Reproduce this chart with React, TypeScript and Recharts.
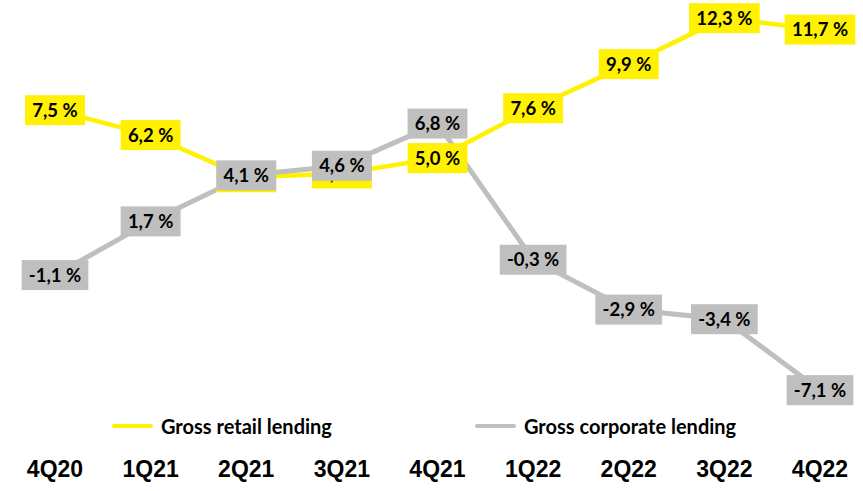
import { LineChart, Line, XAxis, YAxis, LabelList } from 'recharts'

const W = 863
const H = 491

const quarters = ['4Q20', '1Q21', '2Q21', '3Q21', '4Q21', '1Q22', '2Q22', '3Q22', '4Q22']
const retail = [7.5, 6.2, 4.0, 4.2, 5.0, 7.6, 9.9, 12.3, 11.7]
const corporate = [-1.1, 1.7, 4.1, 4.6, 6.8, -0.3, -2.9, -3.4, -7.1]
const seriesNames = ['Gross retail lending', 'Gross corporate lending']

const YELLOW = '#FFF100'
const GREY = '#BFBFBF'

const data = quarters.map((q, i) => ({ q, retail: retail[i], corporate: corporate[i] }))

function fmt(v: number) {
  return `${v.toFixed(1).replace('.', ',')} %`
}

// rough Lato bold advance widths, in em
const CW: Record<string, number> = { ',': 0.26, ' ': 0.26, '%': 0.8, '-': 0.37 }
function textW(s: string, size: number) {
  let w = 0
  for (const c of s) w += CW[c] ?? 0.58
  return w * size
}

function PctLabel({ x, y, value, fill }: any) {
  if (value == null) return null
  const txt = fmt(Number(value))
  const w = textW(txt, 18.5) + 14
  const h = 30
  return (
    <g>
      <rect x={x - w / 2} y={y - h / 2} width={w} height={h} fill={fill} />
      <text x={x} y={y} dy="0.36em" textAnchor="middle" fontFamily="Lato" fontWeight={700} fontSize={18.5} fill="#000">
        {txt}
      </text>
    </g>
  )
}

function QTick({ x, y, payload }: any) {
  return (
    <text x={x} y={y} dy={62} textAnchor="middle" fontFamily="Liberation Sans, Arial" fontWeight={700} fontSize={23} fill="#000">
      {payload.value}
    </text>
  )
}

function LegendItem({ color, label, left }: { color: string; label: string; left: number }) {
  return (
    <div style={{ position: 'absolute', left, top: 414, height: 24, display: 'flex', alignItems: 'center' }}>
      <div style={{ width: 41, height: 4, borderRadius: 2, background: color, marginRight: 8 }} />
      <span style={{ fontFamily: 'Lato', fontWeight: 700, fontSize: 20, color: '#000', whiteSpace: 'nowrap' }}>{label}</span>
    </div>
  )
}

export default function App() {
  return (
    <div style={{ position: 'absolute', left: 0, top: 0, width: W, height: H, background: '#fff' }}>
      <LineChart width={W} height={H} data={data} margin={{ top: 4.7, right: 0, left: 0, bottom: 23.6 }}>
        <XAxis dataKey="q" axisLine={false} tickLine={false} interval={0} height={60}
          padding={{ left: 55, right: 43 }} tick={<QTick />} />
        <YAxis hide width={0} domain={[-8, 13]} allowDataOverflow />
        <Line type="linear" dataKey="retail" stroke={YELLOW} strokeWidth={4.5} dot={false} activeDot={false} isAnimationActive={false} />
        <Line type="linear" dataKey="corporate" stroke={GREY} strokeWidth={5} dot={false} activeDot={false} isAnimationActive={false} />
        <Line type="linear" dataKey="retail" stroke="none" dot={false} activeDot={false} isAnimationActive={false} legendType="none">
          <LabelList dataKey="retail" content={(p: any) => <PctLabel {...p} fill={YELLOW} />} />
        </Line>
        <Line type="linear" dataKey="corporate" stroke="none" dot={false} activeDot={false} isAnimationActive={false} legendType="none">
          <LabelList dataKey="corporate" content={(p: any) => <PctLabel {...p} fill={GREY} />} />
        </Line>
      </LineChart>
      <LegendItem color={YELLOW} label={seriesNames[0]} left={112} />
      <LegendItem color={GREY} label={seriesNames[1]} left={475} />
    </div>
  )
}
